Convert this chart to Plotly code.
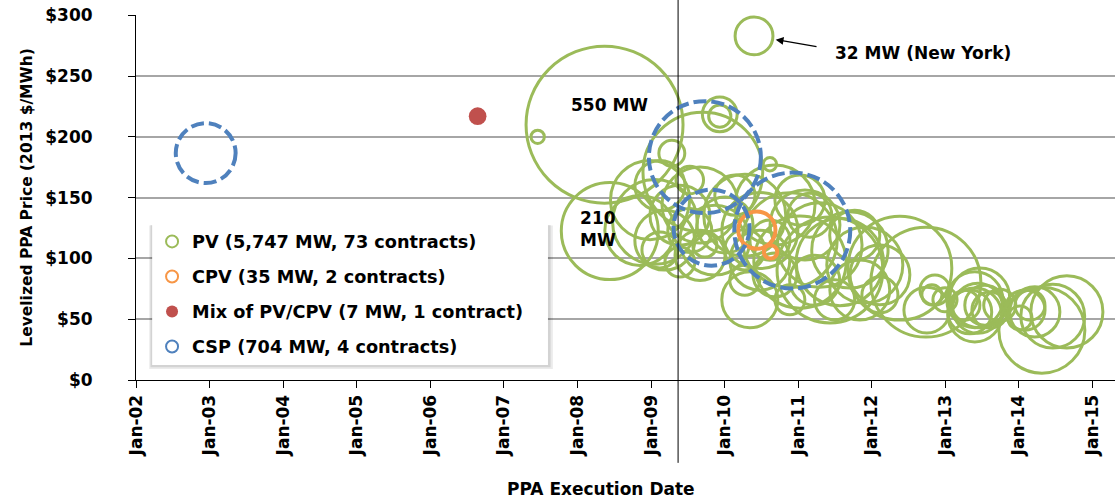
import numpy as np
import plotly.graph_objects as go

# ---------------- data ----------------
pv_dates = ["2008-05-15", "2008-06-10", "2010-05-27", "2007-06-18", "2009-04-14", "2009-12-08",
            "2009-12-08", "2009-09-15", "2010-08-14", "2008-12-27", "2009-01-20", "2008-11-06",
            "2009-03-10", "2009-05-24", "2009-07-12", "2009-02-14", "2009-09-01", "2009-11-13",
            "2009-09-01", "2009-05-24", "2010-01-03", "2010-04-11", "2010-06-25", "2010-09-08",
            "2010-11-21", "2011-01-10", "2011-02-04", "2011-04-18", "2011-06-08", "2011-07-27",
            "2011-09-15", "2010-06-25", "2010-09-08", "2010-04-11", "2011-03-24", "2011-11-03",
            "2011-07-01", "2010-11-21", "2010-08-14", "2011-01-10", "2010-04-11", "2011-11-28",
            "2012-02-11", "2012-05-20", "2012-09-26", "2012-11-10", "2012-10-26", "2012-10-01",
            "2012-12-30", "2013-05-27", "2013-06-11", "2013-05-02", "2013-07-16", "2013-06-21",
            "2013-08-10", "2013-04-08", "2013-05-27", "2013-09-28", "2014-01-31", "2014-02-25",
            "2014-03-21", "2014-04-25", "2014-08-27", "2014-06-18", "2014-01-06", "2012-02-11",
            "2009-07-12", "2009-02-14", "2009-09-25", "2010-02-21", "2011-02-28", "2011-10-09",
            "2010-05-06"]
pv_price = [210, 122.5, 283, 200, 186.5, 218.5,
            217, 171, 177.5, 148, 130, 123,
            115, 135.5, 123, 107, 144, 115,
            102.5, 97, 127.5, 135.5, 123, 144,
            115, 97, 127.5, 111, 90.5, 97,
            107, 98.5, 86.5, 82, 82, 74,
            66, 66, 115, 148, 107, 94.5,
            86.5, 92, 80.5, 74, 70, 57.5,
            66, 66, 59, 56, 61.5, 67.5,
            57.5, 61.5, 53.5, 61.5, 57.5, 61.5,
            56, 41, 56, 52.5, 51, 70,
            164.5, 160, 111, 152, 135.5, 119,
            66]
pv_mw = [550, 210, 32, 4, 15, 27,
         11, 320, 4, 140, 160, 109,
         80, 80, 43, 29, 129, 109,
         56, 20, 70, 150, 129, 143,
         200, 190, 109, 160, 250, 170,
         130, 80, 43, 20, 56, 80,
         36, 20, 36, 56, 36, 129,
         80, 241, 270, 20, 9, 47,
         13, 70, 56, 43, 36, 80,
         29, 20, 65, 23, 36, 20,
         56, 165, 116, 91, 13, 29,
         17, 56, 13, 36, 43, 56,
         70]

cpv_dates = ["2010-06-10", "2010-08-17"]
cpv_price = [123.3, 105.4]
cpv_mw = [31, 4]

mix_dates = ["2006-08-24"]
mix_price = [217]
mix_mw = [7]

csp_dates = ["2002-12-13", "2009-09-25", "2009-10-28", "2010-12-03"]
csp_price = [186.6, 183.3, 125.3, 122.9]
csp_mw = [80, 280, 129, 300]

vline_date = "2009-05-15"
x_range = ["2002-01-01", "2015-04-23"]
y_range = [0, 300.2]
y_ticks = [0, 50, 100, 150, 200, 250, 300]
y_ticktext = ["$0", "$50", "$100", "$150", "$200", "$250", "$300"]

GREEN = "#9BBB59"
ORANGE = "#F79646"
RED = "#C0504D"
BLUE = "#4F81BD"
FONT = "DejaVu Sans"
SIZEREF = 1 / 22.4  # bubble area scale: radius(px) = sqrt(MW / (2*SIZEREF))

fig = go.Figure()

fig.add_trace(go.Scatter(
    x=pv_dates, y=pv_price, mode="markers", name="PV (5,747 MW, 73 contracts)",
    legendgroup="pv",
    marker=dict(size=pv_mw, sizemode="area", sizeref=SIZEREF, color="rgba(0,0,0,0)",
                opacity=1, line=dict(color=GREEN, width=3)),
))
fig.add_trace(go.Scatter(
    x=cpv_dates, y=cpv_price, mode="markers", name="CPV (35 MW, 2 contracts)",
    legendgroup="cpv",
    marker=dict(size=cpv_mw, sizemode="area", sizeref=SIZEREF, color="rgba(0,0,0,0)",
                opacity=1, line=dict(color=ORANGE, width=4)),
))
fig.add_trace(go.Scatter(
    x=mix_dates, y=mix_price, mode="markers", name="Mix of PV/CPV (7 MW, 1 contract)",
    legendgroup="mix",
    marker=dict(size=mix_mw, sizemode="area", sizeref=SIZEREF, color=RED,
                opacity=1, line=dict(width=0)),
))
# legend entry for CSP (circles drawn as dashed shapes below)
fig.add_trace(go.Scatter(
    x=[None], y=[None], mode="markers", name="CSP (704 MW, 4 contracts)",
    legendgroup="csp",
    marker=dict(size=12, color="rgba(0,0,0,0)", line=dict(color=BLUE, width=3)),
))

shapes = []
# legend box with soft shadow
shapes.append(dict(type="rect", xref="paper", yref="paper", x0=0.0135, x1=0.4258, y0=0.030, y1=0.423,
                   line=dict(width=0), fillcolor="rgba(0,0,0,0.08)", layer="above"))
shapes.append(dict(type="rect", xref="paper", yref="paper", x0=0.0148, x1=0.4235, y0=0.035, y1=0.4247,
                   line=dict(width=0), fillcolor="rgba(0,0,0,0.10)", layer="above"))
shapes.append(dict(type="rect", xref="paper", yref="paper", x0=0.0165, x1=0.4208, y0=0.0411, y1=0.4247,
                   line=dict(width=0), fillcolor="white", layer="above"))

for d, p, m in zip(csp_dates, csp_price, csp_mw):
    r = np.sqrt(m / (2 * SIZEREF))
    shapes.append(dict(type="circle", xref="x", yref="y", xsizemode="pixel", ysizemode="pixel",
                       xanchor=d, yanchor=p, x0=-r, x1=r, y0=-r, y1=r,
                       line=dict(color=BLUE, width=4, dash="13px,5px"), layer="above"))

shapes.append(dict(type="line", xref="x", yref="paper", x0=vline_date, x1=vline_date,
                   y0=-0.227, y1=1.045, line=dict(color="black", width=1), layer="above"))

fig.update_layout(shapes=shapes)

ann_font = dict(family=FONT, size=17, color="black", weight="bold")
fig.add_annotation(x=pv_dates[0], y=pv_price[0], text="550 MW", showarrow=False,
                   xshift=5, yshift=20, font=ann_font)
fig.add_annotation(x=pv_dates[1], y=pv_price[1], text="210<br>MW", showarrow=False,
                   xshift=-12, yshift=2, font=ann_font)
fig.add_annotation(x=pv_dates[2], y=pv_price[2], text="32 MW (New York)", showarrow=False,
                   xanchor="left", xshift=79, yshift=-17, font=ann_font)
fig.add_annotation(x=pv_dates[2], y=pv_price[2], text="", showarrow=True,
                   ax=64, ay=11, arrowhead=2, arrowsize=1.2, arrowwidth=1.3,
                   arrowcolor="black", standoff=22)
fig.add_annotation(xref="paper", yref="paper", x=0.475, y=-0.2986, xanchor="center",
                   yanchor="middle", text="PPA Execution Date", showarrow=False, font=ann_font)

tick_font = dict(family=FONT, size=17, color="black", weight="bold")
fig.update_layout(
    width=1115, height=501,
    margin=dict(l=136, r=0, t=15, b=121),
    paper_bgcolor="white", plot_bgcolor="white",
    showlegend=True,
    legend=dict(x=0.0164, y=0.429, xanchor="left", yanchor="top",
                bgcolor="rgba(0,0,0,0)", borderwidth=0,
                font=dict(family=FONT, size=17.7, color="black", weight="bold"),
                itemsizing="constant", traceorder="grouped", tracegroupgap=9),
    xaxis=dict(type="date", range=x_range, tick0="2002-01-01", dtick="M12",
               tickformat="%b-%y", tickangle=-90, ticks="outside", ticklen=7,
               tickcolor="black", showline=True, linecolor="black", linewidth=1,
               showgrid=False, zeroline=False, automargin=False,
               tickfont=tick_font),
    yaxis=dict(range=y_range, tickmode="array", tickvals=y_ticks, ticktext=y_ticktext,
               ticks="outside", ticklen=7, ticklabeloverflow="allow",
               tickcolor="black", showline=True, linecolor="black", linewidth=1,
               showgrid=True, gridcolor="#A6A6A6", gridwidth=1.5, zeroline=False,
               ticklabelstandoff=32, automargin=False,
               title=dict(text="Levelized PPA Price (2013 $/MWh)", standoff=8,
                          font=dict(family=FONT, size=15.5, color="black", weight="bold")),
               tickfont=tick_font),
)

# remove the browser's default 8px page margin so the figure fills the window exactly
fig.write_html("out.html", config={"displayModeBar": False},
               post_script="document.body.style.margin='0';")
